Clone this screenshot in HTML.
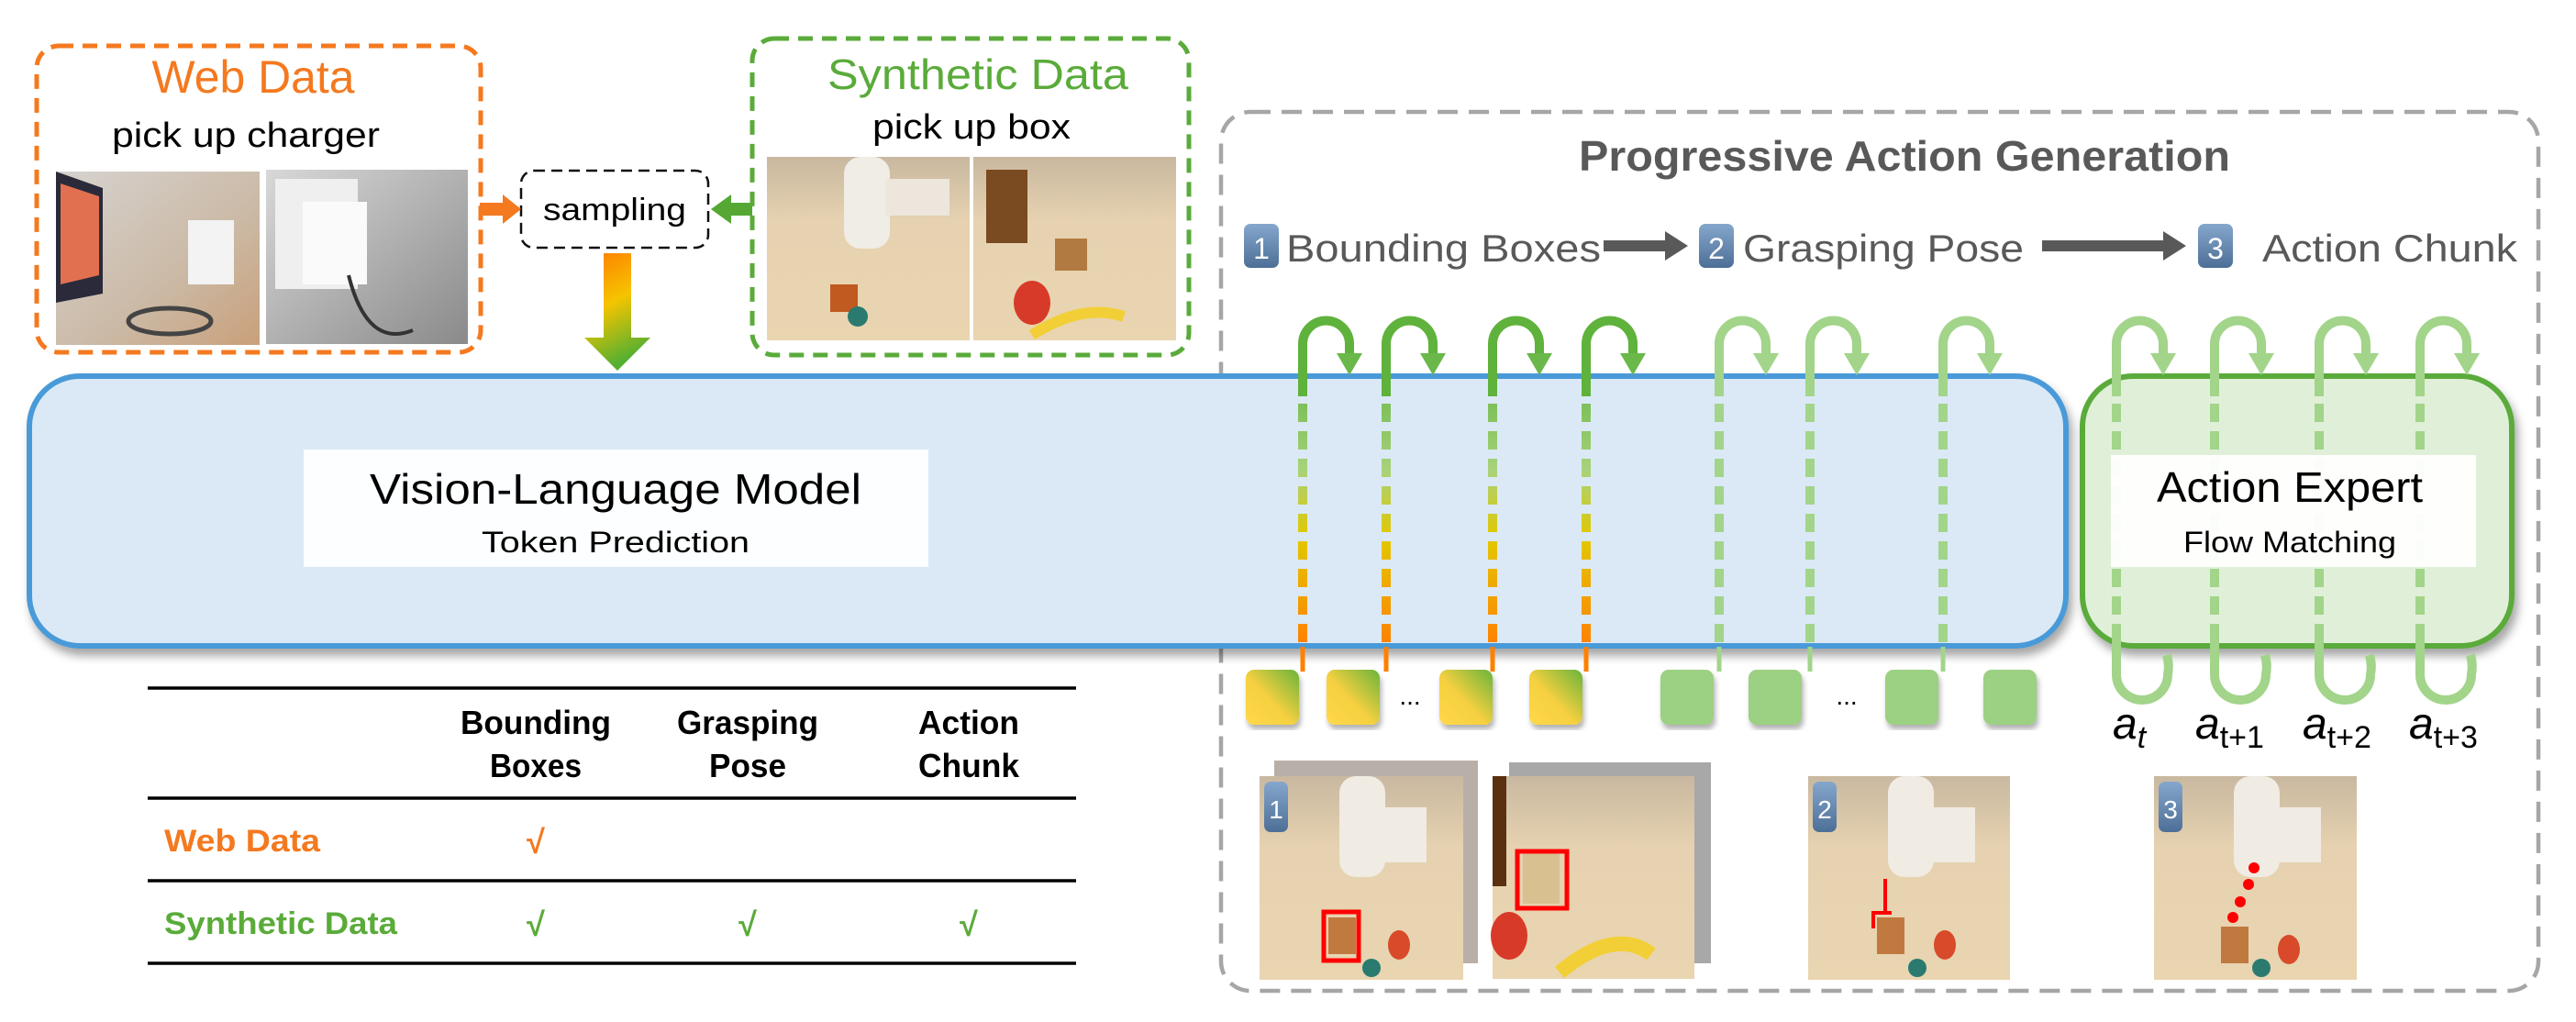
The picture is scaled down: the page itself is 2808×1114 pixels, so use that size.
<!DOCTYPE html>
<html><head><meta charset="utf-8"><style>
html,body{margin:0;padding:0;background:#fff;width:2808px;height:1114px;overflow:hidden}
svg{display:block}
text{font-family:"Liberation Sans",sans-serif}
</style></head><body>
<svg width="2808" height="1114" viewBox="0 0 2808 1114" xmlns="http://www.w3.org/2000/svg">
<defs>
<linearGradient id="arr" x1="0" y1="0" x2="0.3" y2="1"><stop offset="0" stop-color="#ff7a00"/><stop offset="0.5" stop-color="#f5c400"/><stop offset="1" stop-color="#55b030"/></linearGradient>
<linearGradient id="dl" x1="0" y1="408" x2="0" y2="705" gradientUnits="userSpaceOnUse"><stop offset="0" stop-color="#6ab84a"/><stop offset="0.35" stop-color="#a8d27a"/><stop offset="0.6" stop-color="#e2c800"/><stop offset="1" stop-color="#ff8000"/></linearGradient>
<linearGradient id="tok" x1="1" y1="0" x2="0" y2="1"><stop offset="0" stop-color="#6ab43a"/><stop offset="0.55" stop-color="#f5d040"/><stop offset="1" stop-color="#ffd84a"/></linearGradient>
<linearGradient id="badge" x1="0" y1="0" x2="0" y2="1"><stop offset="0" stop-color="#86a7cc"/><stop offset="1" stop-color="#4d6f97"/></linearGradient>
<linearGradient id="scene" x1="0" y1="0" x2="0" y2="1"><stop offset="0" stop-color="#c9b8a0"/><stop offset="0.35" stop-color="#e6d2b0"/><stop offset="1" stop-color="#e9d5b0"/></linearGradient>
<linearGradient id="web1" x1="0" y1="0" x2="1" y2="1"><stop offset="0" stop-color="#d6d3d0"/><stop offset="0.6" stop-color="#cbb9a5"/><stop offset="1" stop-color="#c9a07a"/></linearGradient>
<linearGradient id="web2" x1="0" y1="0" x2="1" y2="1"><stop offset="0" stop-color="#d8d8d8"/><stop offset="1" stop-color="#8a8a8a"/></linearGradient>
<filter id="sh" x="-5%" y="-5%" width="110%" height="115%"><feDropShadow dx="4" dy="8" stdDeviation="5" flood-color="#000" flood-opacity="0.35"/></filter>
<filter id="sh2"><feDropShadow dx="2" dy="5" stdDeviation="3" flood-color="#000" flood-opacity="0.3"/></filter>
</defs>

<!-- Web data box -->
<rect x="40" y="50" width="484" height="334" rx="24" fill="none" stroke="#f4791f" stroke-width="5" stroke-dasharray="16 10"/>
<text x="276" y="101" text-anchor="middle" font-size="50" fill="#f4791f" textLength="221" lengthAdjust="spacingAndGlyphs">Web Data</text>
<text x="268" y="160" text-anchor="middle" font-size="38" fill="#000" textLength="292" lengthAdjust="spacingAndGlyphs">pick up charger</text>
<rect x="61" y="187" width="222" height="189" fill="url(#web1)"/>
<polygon points="61,187 112,205 112,320 61,330" fill="#2a2a3a"/>
<polygon points="66,200 108,214 108,300 66,310" fill="#e07050"/>
<rect x="205" y="240" width="50" height="70" fill="#f3f3f3"/>
<ellipse cx="185" cy="350" rx="45" ry="14" fill="none" stroke="#444" stroke-width="5"/>
<rect x="290" y="185" width="220" height="190" fill="url(#web2)"/>
<rect x="300" y="195" width="90" height="120" fill="#efefef"/>
<rect x="330" y="220" width="70" height="90" fill="#fafafa"/>
<path d="M380 300 Q400 380 450 360" stroke="#333" stroke-width="4" fill="none"/>

<!-- sampling -->
<rect x="568" y="186" width="204" height="84" rx="14" fill="none" stroke="#111" stroke-width="2.5" stroke-dasharray="12 7"/>
<text x="670" y="240" text-anchor="middle" font-size="34" fill="#000" textLength="156" lengthAdjust="spacingAndGlyphs">sampling</text>
<rect x="523" y="221" width="28" height="14" fill="#f4791f"/><polygon points="548,212 568,228 548,244" fill="#f4791f"/>
<rect x="795" y="221" width="25" height="14" fill="#55a833"/><polygon points="797,212 775,228 797,244" fill="#55a833"/>
<polygon points="658,276 688,276 688,368 709,368 673,404 637,368 658,368" fill="url(#arr)"/>

<!-- synthetic box -->
<rect x="820" y="42" width="476" height="345" rx="24" fill="none" stroke="#5aab3a" stroke-width="5" stroke-dasharray="16 10"/>
<text x="1066" y="97" text-anchor="middle" font-size="46" fill="#5aab3a" textLength="328" lengthAdjust="spacingAndGlyphs">Synthetic Data</text>
<text x="1059" y="151" text-anchor="middle" font-size="38" fill="#000" textLength="216" lengthAdjust="spacingAndGlyphs">pick up box</text>
<rect x="836" y="171" width="221" height="200" fill="url(#scene)"/>
<rect x="1061" y="171" width="221" height="200" fill="url(#scene)"/>
<rect x="920" y="171" width="50" height="100" rx="18" fill="#f0ece6"/>
<rect x="965" y="195" width="70" height="40" fill="#ece6dc"/>
<rect x="1075" y="185" width="45" height="80" fill="#7a4a20"/>
<rect x="1150" y="260" width="35" height="35" fill="#b07a40"/>
<ellipse cx="1125" cy="330" rx="20" ry="24" fill="#d83a2a"/>
<path d="M1125 365 Q1180 330 1225 345" stroke="#f2cf36" stroke-width="12" fill="none"/>
<rect x="905" y="310" width="30" height="30" fill="#c05a20"/>
<circle cx="935" cy="345" r="11" fill="#2a7a70"/>

<!-- progressive gray box -->
<rect x="1331" y="122" width="1436" height="958" rx="32" fill="none" stroke="#a6a6a6" stroke-width="4.5" stroke-dasharray="22 12"/>

<!-- VLM -->
<rect x="32" y="410" width="2220" height="294" rx="55" fill="#dbe9f6" stroke="#4a9ad8" stroke-width="6" filter="url(#sh)"/>
<rect x="331" y="490" width="681" height="128" fill="#fff" opacity="0.92"/>
<text x="671" y="549" text-anchor="middle" font-size="46" fill="#000" textLength="536" lengthAdjust="spacingAndGlyphs">Vision-Language Model</text>
<text x="671" y="602" text-anchor="middle" font-size="32" fill="#000" textLength="292" lengthAdjust="spacingAndGlyphs">Token Prediction</text>

<!-- Action expert -->
<rect x="2270" y="410" width="468" height="294" rx="55" fill="#e0f0d8" stroke="#5aab3a" stroke-width="6" filter="url(#sh)"/>

<!-- title and steps -->
<text x="2076" y="186" text-anchor="middle" font-size="46" font-weight="bold" fill="#595959" textLength="710" lengthAdjust="spacingAndGlyphs">Progressive Action Generation</text>
<rect x="1356" y="244" width="38" height="48" rx="7" fill="url(#badge)"/><text x="1375" y="282" text-anchor="middle" font-size="32" fill="#fff">1</text>
<text x="1402" y="285" font-size="42" fill="#595959" textLength="343" lengthAdjust="spacingAndGlyphs">Bounding Boxes</text>
<rect x="1748" y="262" width="70" height="12" fill="#595959"/><polygon points="1815,252 1840,268 1815,284" fill="#595959"/>
<rect x="1852" y="244" width="38" height="48" rx="7" fill="url(#badge)"/><text x="1871" y="282" text-anchor="middle" font-size="32" fill="#fff">2</text>
<text x="1900" y="285" font-size="42" fill="#595959" textLength="306" lengthAdjust="spacingAndGlyphs">Grasping Pose</text>
<rect x="2226" y="262" width="135" height="12" fill="#595959"/><polygon points="2358,252 2383,268 2358,284" fill="#595959"/>
<rect x="2396" y="244" width="38" height="48" rx="7" fill="url(#badge)"/><text x="2415" y="282" text-anchor="middle" font-size="32" fill="#fff">3</text>
<text x="2466" y="285" font-size="42" fill="#595959" textLength="278" lengthAdjust="spacingAndGlyphs">Action Chunk</text>

<!-- loops -->
<g fill="none" stroke-width="10">
<g stroke="#5fb23c">
<path d="M1420 432 V375 A25.5 25.5 0 0 1 1471 375 V388"/>
<path d="M1511 432 V375 A25.5 25.5 0 0 1 1562 375 V388"/>
<path d="M1627 432 V375 A25.5 25.5 0 0 1 1678 375 V388"/>
<path d="M1729 432 V375 A25.5 25.5 0 0 1 1780 375 V388"/>
</g>
<g stroke="url(#dl)" stroke-dasharray="20 10">
<path d="M1420 440 V705"/><path d="M1511 440 V705"/><path d="M1627 440 V705"/><path d="M1729 440 V705"/>
</g>
<g stroke="#ff8000" stroke-width="5">
<path d="M1420 705 V732"/><path d="M1511 705 V732"/><path d="M1627 705 V732"/><path d="M1729 705 V732"/>
</g>
<g stroke="#a2d48a">
<path d="M1874 432 V375 A25.5 25.5 0 0 1 1925 375 V388"/>
<path d="M1973 432 V375 A25.5 25.5 0 0 1 2024 375 V388"/>
<path d="M2118 432 V375 A25.5 25.5 0 0 1 2169 375 V388"/>
<path d="M2307 432 V375 A25.5 25.5 0 0 1 2358 375 V388"/>
<path d="M2414 432 V375 A25.5 25.5 0 0 1 2465 375 V388"/>
<path d="M2528 432 V375 A25.5 25.5 0 0 1 2579 375 V388"/>
<path d="M2638 432 V375 A25.5 25.5 0 0 1 2689 375 V388"/>
</g>
<g stroke="#a2d48a" stroke-dasharray="20 10">
<path d="M1874 440 V705"/><path d="M1973 440 V705"/><path d="M2118 440 V705"/>
<path d="M2307 440 V700"/><path d="M2414 440 V700"/><path d="M2528 440 V700"/><path d="M2638 440 V700"/>
</g>
<g stroke="#a2d48a" stroke-width="5">
<path d="M1874 705 V732"/><path d="M1973 705 V732"/><path d="M2118 705 V732"/>
</g>
<g stroke="#a2d48a">
<path d="M2307 700 V735 A28 28 0 0 0 2363 735 Q2365 725 2362 714"/>
<path d="M2414 700 V735 A28 28 0 0 0 2470 735 Q2472 725 2469 714"/>
<path d="M2528 700 V735 A28 28 0 0 0 2584 735 Q2586 725 2583 714"/>
<path d="M2638 700 V735 A28 28 0 0 0 2694 735 Q2696 725 2693 714"/>
</g>
</g>
<g fill="#6ab84a">
<polygon points="1457,385 1485,385 1471,409"/><polygon points="1548,385 1576,385 1562,409"/>
<polygon points="1664,385 1692,385 1678,409"/><polygon points="1766,385 1794,385 1780,409"/>
</g>
<g fill="#a2d48a">
<polygon points="1911,385 1939,385 1925,409"/><polygon points="2010,385 2038,385 2024,409"/>
<polygon points="2155,385 2183,385 2169,409"/><polygon points="2344,385 2372,385 2358,409"/>
<polygon points="2451,385 2479,385 2465,409"/><polygon points="2565,385 2593,385 2579,409"/>
<polygon points="2675,385 2703,385 2689,409"/>
</g>

<!-- action expert label (over lines) -->
<rect x="2301" y="496" width="398" height="122" fill="#fff" opacity="0.95"/>
<text x="2496" y="547" text-anchor="middle" font-size="46" fill="#000" textLength="290" lengthAdjust="spacingAndGlyphs">Action Expert</text>
<text x="2496" y="602" text-anchor="middle" font-size="32" fill="#000" textLength="232" lengthAdjust="spacingAndGlyphs">Flow Matching</text>

<!-- tokens -->
<g filter="url(#sh2)">
<rect x="1358" y="730" width="58" height="60" rx="9" fill="url(#tok)"/>
<rect x="1446" y="730" width="58" height="60" rx="9" fill="url(#tok)"/>
<rect x="1569" y="730" width="58" height="60" rx="9" fill="url(#tok)"/>
<rect x="1667" y="730" width="58" height="60" rx="9" fill="url(#tok)"/>
<rect x="1810" y="730" width="58" height="60" rx="9" fill="#9cd082"/>
<rect x="1906" y="730" width="58" height="60" rx="9" fill="#9cd082"/>
<rect x="2055" y="730" width="58" height="60" rx="9" fill="#9cd082"/>
<rect x="2162" y="730" width="58" height="60" rx="9" fill="#9cd082"/>
</g>
<text x="1537" y="768" text-anchor="middle" font-size="28" fill="#000">...</text>
<text x="2013" y="768" text-anchor="middle" font-size="28" fill="#000">...</text>

<!-- a labels -->
<g font-family="Liberation Serif,serif" font-style="italic" fill="#000">
<text x="2303" y="805" font-size="48">a<tspan font-size="34" dy="10">t</tspan></text>
<text x="2393" y="805" font-size="48">a<tspan font-size="34" dy="10" font-style="normal">t+1</tspan></text>
<text x="2510" y="805" font-size="48">a<tspan font-size="34" dy="10" font-style="normal">t+2</tspan></text>
<text x="2626" y="805" font-size="48">a<tspan font-size="34" dy="10" font-style="normal">t+3</tspan></text>
</g>

<!-- table -->
<g stroke="#000" stroke-width="3.5">
<line x1="161" y1="750" x2="1173" y2="750"/><line x1="161" y1="870" x2="1173" y2="870"/>
<line x1="161" y1="960" x2="1173" y2="960"/><line x1="161" y1="1050" x2="1173" y2="1050"/>
</g>
<g font-size="36" font-weight="bold" text-anchor="middle" fill="#000">
<text x="584" y="800" textLength="164" lengthAdjust="spacingAndGlyphs">Bounding</text><text x="584" y="847" textLength="100" lengthAdjust="spacingAndGlyphs">Boxes</text>
<text x="815" y="800" textLength="154" lengthAdjust="spacingAndGlyphs">Grasping</text><text x="815" y="847" textLength="84" lengthAdjust="spacingAndGlyphs">Pose</text>
<text x="1056" y="800" textLength="110" lengthAdjust="spacingAndGlyphs">Action</text><text x="1056" y="847" textLength="110" lengthAdjust="spacingAndGlyphs">Chunk</text>
</g>
<text x="179" y="928" font-size="34" font-weight="bold" fill="#f4791f" textLength="170" lengthAdjust="spacingAndGlyphs">Web Data</text>
<text x="179" y="1018" font-size="34" font-weight="bold" fill="#5aab3a" textLength="254" lengthAdjust="spacingAndGlyphs">Synthetic Data</text>
<g font-size="36" font-weight="bold" text-anchor="middle">
<text x="584" y="930" fill="#f4791f">√</text>
<text x="584" y="1020" fill="#5aab3a">√</text><text x="815" y="1020" fill="#5aab3a">√</text><text x="1056" y="1020" fill="#5aab3a">√</text>
</g>

<!-- bottom images -->
<rect x="1389" y="829" width="222" height="221" fill="#b8b0a8"/>
<rect x="1645" y="831" width="220" height="219" fill="#a8a8a8"/>
<g>
<rect x="1373" y="846" width="222" height="222" fill="url(#scene)"/>
<rect x="1627" y="846" width="220" height="221" fill="url(#scene)"/>
<rect x="1971" y="846" width="220" height="222" fill="url(#scene)"/>
<rect x="2348" y="846" width="221" height="222" fill="url(#scene)"/>
</g>
<g fill="#f0ebe3">
<rect x="1460" y="846" width="50" height="110" rx="18"/><rect x="1495" y="880" width="60" height="60"/>
<rect x="2058" y="846" width="50" height="110" rx="18"/><rect x="2093" y="880" width="60" height="60"/>
<rect x="2435" y="846" width="50" height="110" rx="18"/><rect x="2470" y="880" width="60" height="60"/>
</g>
<rect x="1627" y="846" width="15" height="120" fill="#5a3010"/>
<path d="M1700 1060 Q1760 1010 1800 1040" stroke="#f2cf36" stroke-width="16" fill="none"/>
<ellipse cx="1645" cy="1020" rx="20" ry="26" fill="#d83a2a"/>
<rect x="1660" y="930" width="40" height="55" fill="#d8c090"/>
<rect x="1654" y="928" width="54" height="62" fill="none" stroke="#ff0000" stroke-width="5"/>
<rect x="1448" y="1000" width="30" height="40" fill="#c07a40"/>
<rect x="1443" y="994" width="38" height="53" fill="none" stroke="#ff0000" stroke-width="5"/>
<circle cx="1495" cy="1055" r="10" fill="#2a7a70"/><ellipse cx="1525" cy="1030" rx="12" ry="16" fill="#d84a2a"/>
<rect x="2046" y="1000" width="30" height="40" fill="#c07a40"/>
<path d="M2042 1012 V995 H2062 M2055 995 V958" stroke="#ff0000" stroke-width="4" fill="none"/>
<circle cx="2090" cy="1055" r="10" fill="#2a7a70"/><ellipse cx="2120" cy="1030" rx="12" ry="16" fill="#d84a2a"/>
<rect x="2421" y="1010" width="30" height="40" fill="#c07a40"/>
<circle cx="2465" cy="1055" r="10" fill="#2a7a70"/><ellipse cx="2495" cy="1035" rx="12" ry="16" fill="#d84a2a"/>
<g fill="#ff0000"><circle cx="2457" cy="946" r="6"/><circle cx="2451" cy="964" r="6"/><circle cx="2442" cy="983" r="6"/><circle cx="2434" cy="1000" r="6"/></g>
<rect x="1378" y="852" width="26" height="55" rx="7" fill="url(#badge)"/><text x="1391" y="892" text-anchor="middle" font-size="28" fill="#fff">1</text>
<rect x="1976" y="852" width="26" height="55" rx="7" fill="url(#badge)"/><text x="1989" y="892" text-anchor="middle" font-size="28" fill="#fff">2</text>
<rect x="2353" y="852" width="26" height="55" rx="7" fill="url(#badge)"/><text x="2366" y="892" text-anchor="middle" font-size="28" fill="#fff">3</text>
</svg>
</body></html>
